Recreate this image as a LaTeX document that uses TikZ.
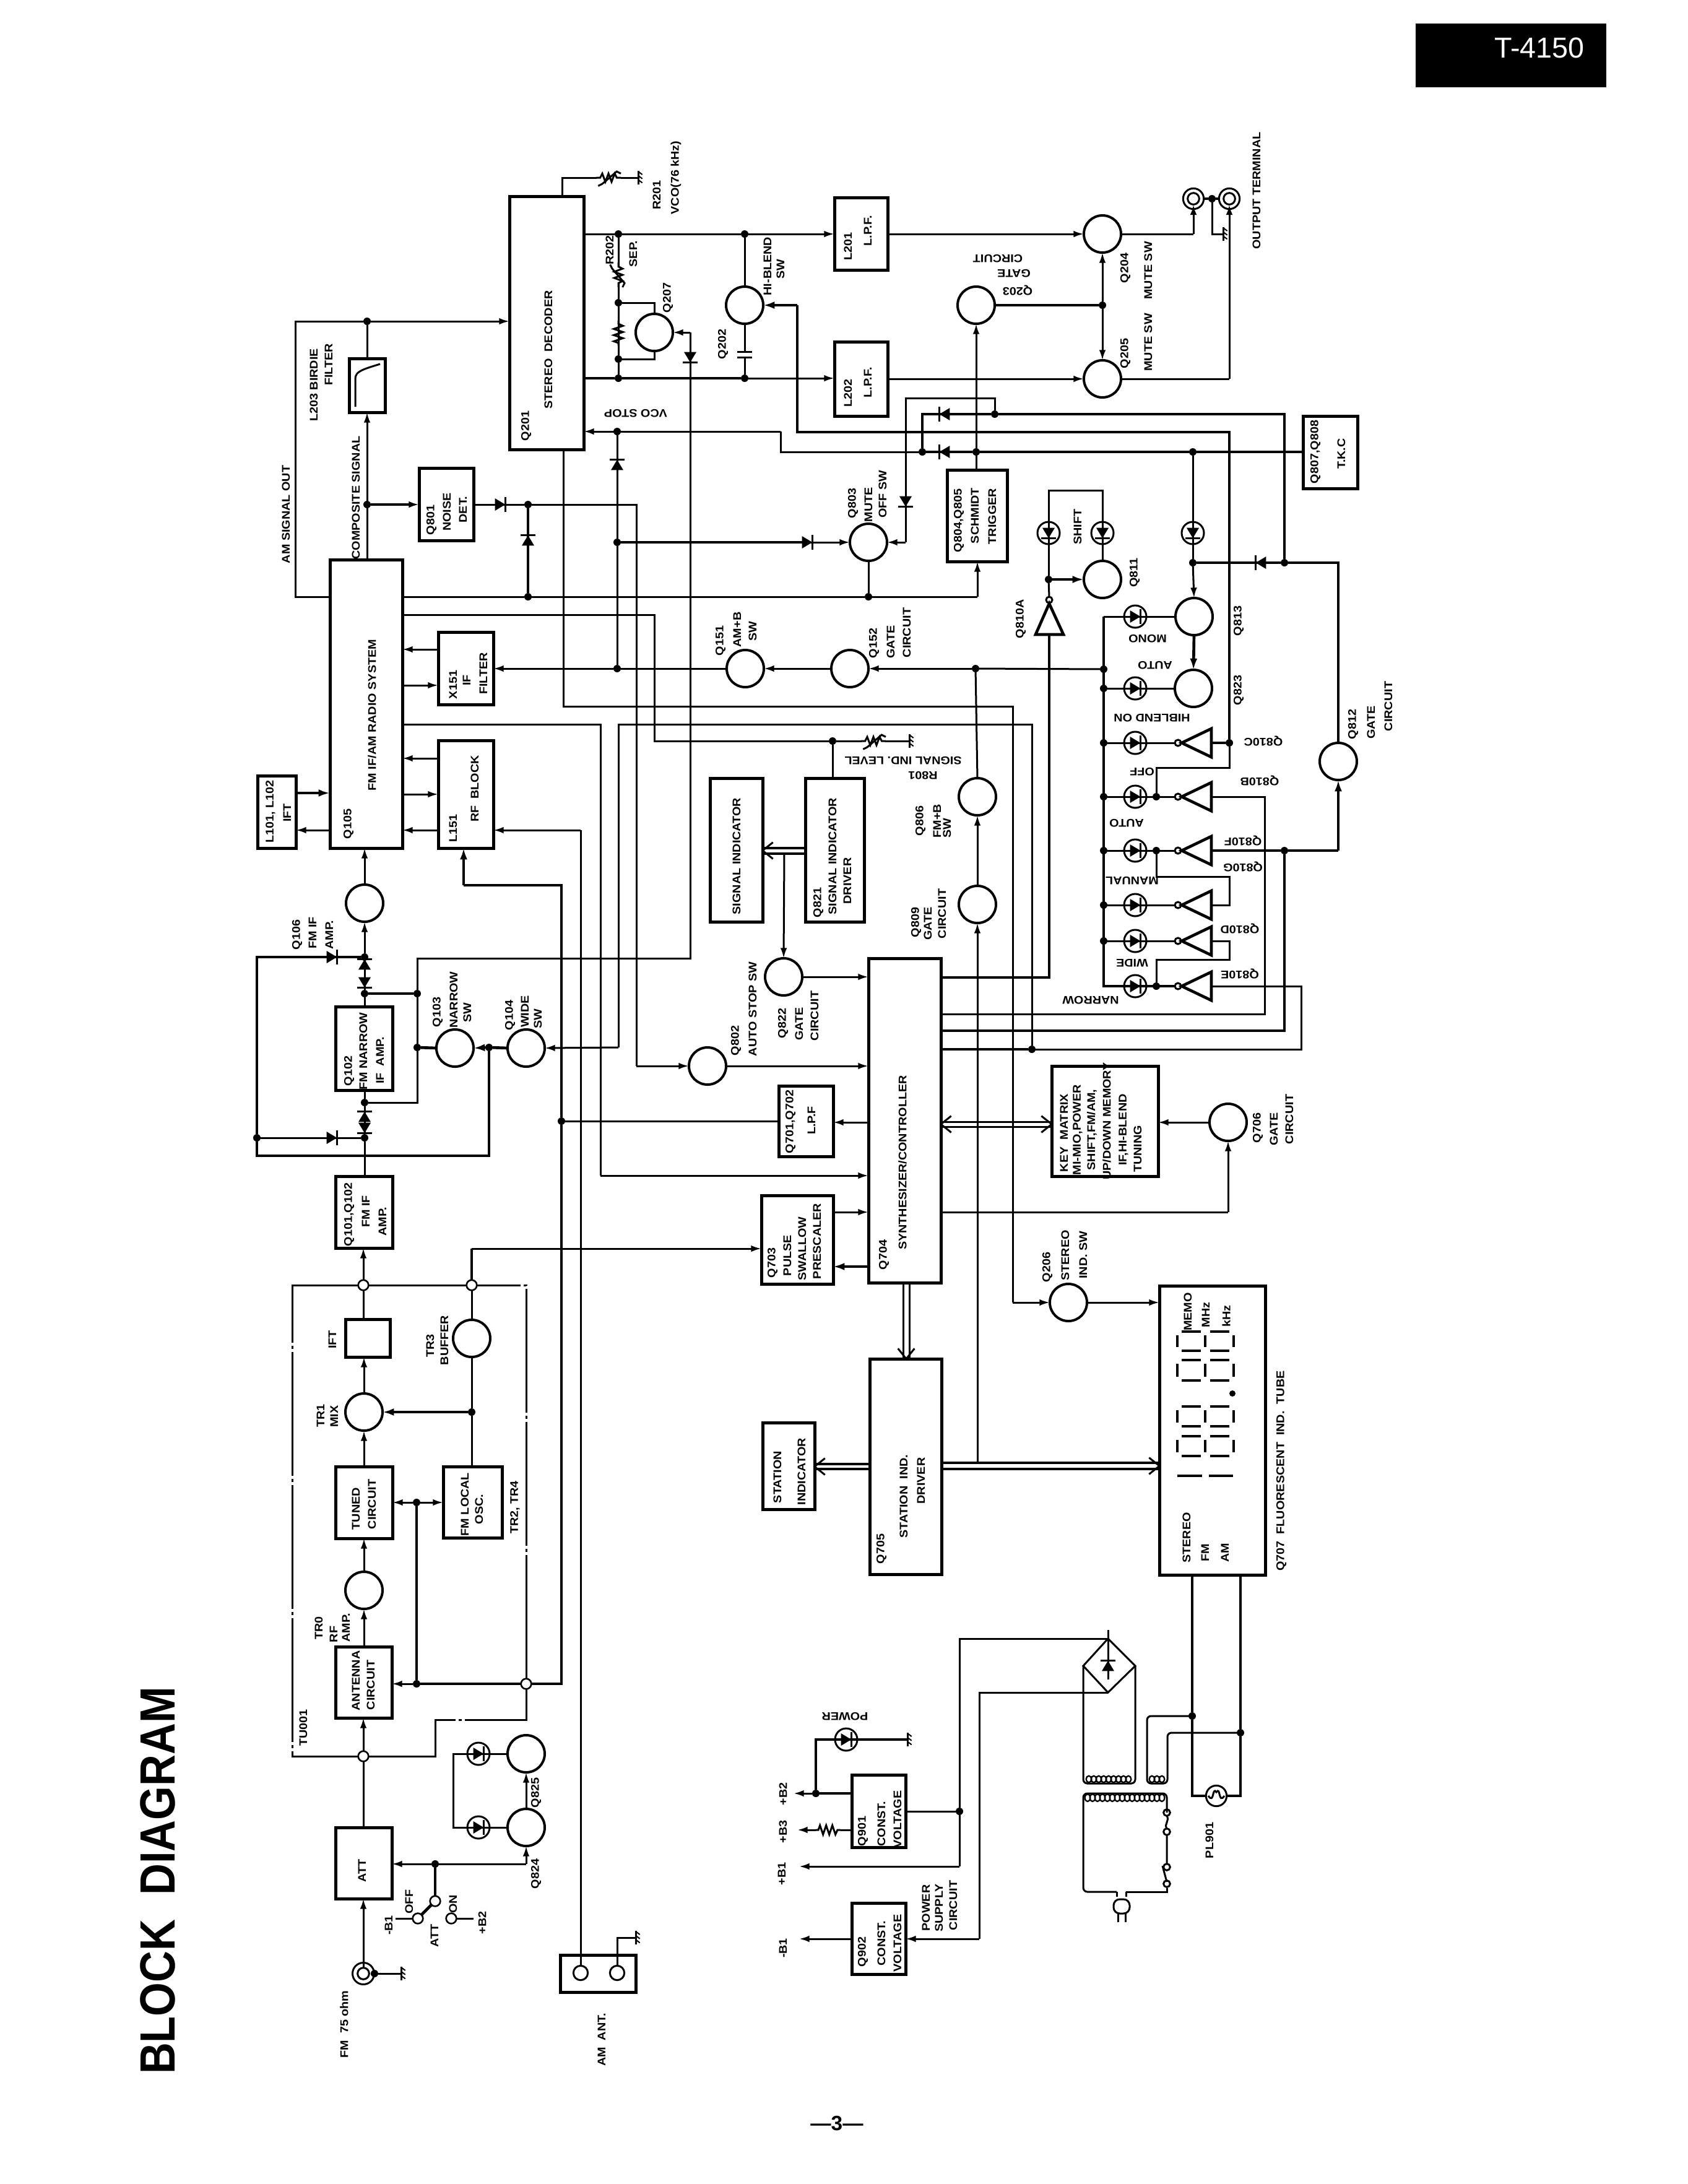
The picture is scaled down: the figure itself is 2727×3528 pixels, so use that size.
\documentclass[tikz,border=0pt]{standalone}
\usepackage{fontspec}
\setmainfont[FakeStretch=1.1]{Liberation Sans}
\newfontfamily\titlef[FakeStretch=0.88]{Liberation Sans}
\newfontfamily\plainf{Liberation Sans}
\usetikzlibrary{arrows.meta,fit}
\newcounter{lbl}
\tikzset{
 w/.style={line width=0.9pt},
 wt/.style={line width=1.4pt},
 arr/.style={w,-{Latex[length=5pt,width=3.2pt]}},
 arrt/.style={wt,-{Latex[length=5.5pt,width=3.6pt]}},
 bxs/.style={draw,rectangle,line width=1.5pt,inner sep=0pt,outer sep=0pt},
 trs/.style={draw,circle,minimum size=18pt,line width=1.2pt,inner sep=0pt,outer sep=0pt},
 jns/.style={fill=black,circle,minimum size=3.6pt,inner sep=0pt,outer sep=0pt},
 ops/.style={draw,fill=white,circle,minimum size=5pt,line width=0.8pt,inner sep=0pt,outer sep=0pt},
 cnn/.style={draw,circle,line width=0.9pt,inner sep=0pt,outer sep=0pt},
 lab/.style={font=\fontsize{5.4pt}{6pt}\selectfont\bfseries,inner sep=0pt,outer sep=0pt},
 tub/.style={line width=0.9pt,dash pattern=on 60pt off 1.5pt on 1.5pt off 1.5pt},
}
\newcommand\tv[3]{\stepcounter{lbl}\node[lab,rotate=90] (t\arabic{lbl}) at (#1,#2) {#3};}
\newcommand\tu[3]{\stepcounter{lbl}\node[lab,rotate=180] (t\arabic{lbl}) at (#1,#2) {#3};}
\newcommand\bx[5]{\node[bxs,fit={(#2,#3)(#4,#5)}] (#1) {};}
\newcommand\trn[3]{\node[trs] (#1) at (#2,#3) {};}
\newcommand\jn[3]{\node[jns] (#1) at (#2,#3) {};}
\newcommand\opn[3]{\node[ops] (#1) at (#2,#3) {};}
\newcommand\dio[3]{\begin{scope}[shift={(#1,#2)},rotate=#3]\fill (-2.5pt,-3pt)--(2.5pt,0pt)--(-2.5pt,3pt)--cycle;\draw[w] (2.5pt,-3.6pt)--(2.5pt,3.6pt);\end{scope}}
\newcommand\led[3]{\dio{#1}{#2}{#3}\draw[line width=0.9pt] (#1,#2) circle (5.4pt);}
\newcommand\gnd[2]{\begin{scope}[shift={(#1,#2)}]\draw[w] (0pt,-3.2pt)--(0pt,3.2pt);\draw[line width=0.6pt] (0pt,3pt)--(2pt,1.5pt) (0pt,1pt)--(2pt,-0.5pt) (0pt,-1pt)--(2pt,-2.5pt);\end{scope}}
\newcommand\vres[3]{\begin{scope}[shift={(#1,#2)},rotate=#3]\draw[w] (-6pt,0pt)--(-4pt,0pt)--(-3pt,2pt)--(-1.5pt,-2pt)--(0pt,2pt)--(1.5pt,-2pt)--(3pt,2pt)--(4pt,0pt)--(6pt,0pt);\draw[w] (-5pt,-4pt)--(-3pt,-3pt)--(4pt,3pt)--(6pt,2pt);\end{scope}}
\newcommand\res[3]{\begin{scope}[shift={(#1,#2)},rotate=#3]\draw[w] (-6pt,0pt)--(-4.5pt,0pt)--(-3.5pt,2.2pt)--(-2pt,-2.2pt)--(-0.5pt,2.2pt)--(1pt,-2.2pt)--(2.5pt,2.2pt)--(4pt,-2.2pt)--(4.8pt,0pt)--(6pt,0pt);\end{scope}}
\newcommand\invt[1]{\draw[wt] (1957,#1-23)--(1957,#1+23)--(1909,#1)--cycle;\draw[w] (1903,#1) circle (1.5pt);}
\newcommand\chev[3]{\begin{scope}[shift={(#1,#2)},rotate=#3]\draw[w] (-5pt,4pt)--(0pt,0pt)--(-5pt,-4pt);\end{scope}}
\newcommand\dig[2]{\draw[line width=1.3pt] (1909,#1)--(1940,#1) (1955,#1)--(1986,#1) (1909,#2)--(1940,#2) (1955,#2)--(1986,#2) (1902,#1+6)--(1902,#2-6) (1947,#1+6)--(1947,#2-6) (1993,#1+6)--(1993,#2-6);}
\begin{document}
\begin{tikzpicture}[x=0.3pt,y=-0.3pt]
\useasboundingbox (0,0) rectangle (2727,3528);
\fill[white] (0,0) rectangle (2727,3528);
% ---------- header, title
\node[fill=black,inner sep=0pt,outer sep=0pt,fit={(2287,38)(2595,141)}] (HDR) {};
\node[text=white,font=\plainf\fontsize{14pt}{14pt}\selectfont,inner sep=0pt] (HDRT) at (2487,77) {T-4150};
\node[rotate=90,font=\titlef\fontsize{24pt}{24pt}\selectfont\bfseries,inner sep=0pt] (TITLE) at (255,3038) {BLOCK\ \ DIAGRAM};
\node[font=\plainf\fontsize{10pt}{10pt}\selectfont\bfseries,inner sep=0pt] (PAGE) at (1352,3430) {—3—};
% ---------- blocks
\bx{Q201}{823}{317}{943}{726}
\bx{L201}{1348}{319}{1434}{436}
\bx{L202}{1348}{552}{1434}{672}
\bx{L203}{564}{579}{622}{666}
\bx{Q801}{677}{756}{765}{873}
\bx{Q105}{533}{904}{650}{1370}
\bx{X151}{708}{1021}{797}{1138}
\bx{L151}{708}{1196}{797}{1370}
\bx{L101}{416}{1253}{478}{1370}
\bx{SIGN}{1147}{1257}{1232}{1489}
\bx{Q821}{1301}{1257}{1396}{1489}
\bx{Q102}{542}{1626}{634}{1761}
\bx{Q101}{542}{1900}{634}{2016}
\bx{Q701}{1258}{1754}{1346}{1868}
\bx{Q703}{1230}{1931}{1346}{2074}
\bx{Q704}{1403}{1548}{1520}{2072}
\bx{Q705}{1405}{2195}{1521}{2543}
\bx{STN}{1232}{2298}{1316}{2438}
\bx{KEY}{1699}{1722}{1871}{1900}
\bx{DISP}{1873}{2077}{2044}{2544}
\bx{Q804}{1530}{759}{1627}{907}
\bx{TKC}{2105}{672}{2193}{789}
\bx{IFT}{558}{2131}{630}{2192}
\bx{TUNED}{542}{2369}{634}{2485}
\bx{OSC}{716}{2369}{811}{2484}
\bx{ANT}{542}{2660}{633}{2775}
\bx{ATT}{542}{2952}{633}{3067}
\bx{AMB}{905}{3158}{1027}{3218}
\bx{Q901}{1376}{2867}{1463}{2984}
\bx{Q902}{1376}{3074}{1463}{3189}
% ---------- transistors
\trn{Q207}{1057}{537}\trn{Q202}{1203}{493}\trn{Q203}{1577}{493}\trn{Q204}{1781}{378}\trn{Q205}{1781}{612}
\trn{Q803}{1403}{876}\trn{Q811}{1781}{936}\trn{Q813}{1929}{996}\trn{Q823}{1928}{1112}\trn{Q812}{2162}{1230}
\trn{Q151}{1204}{1080}\trn{Q152}{1373}{1080}\trn{Q806}{1579}{1287}\trn{Q809}{1579}{1461}\trn{Q822}{1266}{1578}
\trn{Q106}{589}{1459}\trn{Q103}{735}{1693}\trn{Q104}{850}{1693}\trn{Q802}{1143}{1722}\trn{Q206}{1726}{2104}
\trn{Q706}{1984}{1813}\trn{TR3}{762}{2162}\trn{TR1}{588}{2281}\trn{TR0}{588}{2569}\trn{Q824}{850}{2952}\trn{Q825}{850}{2833}
% ---------- junctions
\jn{jA}{999}{378}\jn{jB}{1203}{378}\jn{jC}{999}{611}\jn{jD}{1203}{611}\jn{jE}{999}{489}\jn{jF}{999}{580}
\jn{jVCO}{997}{697}\jn{jG}{997}{876}\jn{jH}{997}{1080}\jn{jI}{593}{519}\jn{jK}{593}{815}\jn{jL}{853}{815}
\jn{jM}{853}{964}\jn{jN}{1403}{964}\jn{jO}{1577}{730}\jn{jP}{1490}{730}\jn{jQ}{1607}{669}\jn{jR}{1927}{730}
\jn{jS}{1927}{909}\jn{jT}{2075}{909}\jn{jU}{1694}{936}\jn{jV}{1783}{1081}\jn{jW}{1576}{1080}\jn{jAW}{1781}{493}
\jn{b1}{1783}{1112}\jn{b2}{1783}{1200}\jn{b3}{1783}{1287}\jn{b4}{1783}{1374}\jn{b5}{1783}{1462}\jn{b6}{1783}{1520}
\jn{jX}{1986}{1200}\jn{jY}{1868}{1287}\jn{jZ}{1868}{1374}\jn{jAA}{1868}{1593}\jn{jAB}{2075}{1374}\jn{jAC}{1667}{1695}
\jn{jAD}{1345}{1197}\jn{jAE}{589}{1546}\jn{jAF}{589}{1605}\jn{jAG}{674}{1605}\jn{jAH}{674}{1692}\jn{jAI}{589}{1781}
\jn{jAJ}{589}{1838}\jn{jAK}{415}{1838}\jn{jAL}{790}{1692}\jn{jAM}{907}{1811}\jn{jAN}{762}{2281}\jn{jAO}{673}{2427}\jn{jAP}{673}{2720}
\jn{jAQ}{703}{3011}\jn{jAR}{1550}{2926}\jn{jAS}{1318}{2897}\jn{jAT}{1926}{2772}\jn{jAU}{2004}{2799}\jn{jAV}{1958}{321}\jn{jAX}{605}{3188}
\opn{oA}{587}{2076}\opn{oB}{762}{2076}\opn{oC}{850}{2720}\opn{oD}{587}{2837}
\node[cnn,minimum size=10pt] (OUTA) at (1928,321) {};
\node[cnn,minimum size=5.6pt] (OUTAi) at (1928,321) {};
\node[cnn,minimum size=10pt] (OUTB) at (1986,321) {};
\node[cnn,minimum size=5.6pt] (OUTBi) at (1986,321) {};
\node[cnn,minimum size=10.5pt] (FMC) at (587,3188) {};
\node[cnn,minimum size=5.6pt] (FMCi) at (587,3188) {};
\node[cnn,minimum size=7pt] (AMa) at (938,3187) {};
\node[cnn,minimum size=7pt] (AMb) at (997,3187) {};
\node[cnn,minimum size=10pt] (LMP) at (1965,2901) {};
\opn{swA}{703}{3071}\opn{swB}{675}{3099}\opn{swC}{729}{3099}
\coordinate (R201a) at (964,287);\coordinate (R201b) at (1003,287);\coordinate (G201) at (1031,287);
\coordinate (R801a) at (1392,1197);\coordinate (R801b) at (1430,1197);\coordinate (G801) at (1469,1197);
\coordinate (GOUT) at (1976,378);\coordinate (GFM) at (648,3188);\coordinate (GAM) at (1027,3130);\coordinate (GPW) at (1466,2810);
% ---------- stereo decoder area
\draw[w] (908,0 |- Q201.north) -- (908,287) -- (R201a);
\vres{983}{287}{0}
\draw[w] (R201b) -- (G201); \gnd{1031}{287}
\draw[w] (Q201.east |- jA) -- (jA) -- (jB);
\draw[arr] (jB) -- (L201.west |- jB);
\draw[wt] (Q201.east |- jC) -- (jC) -- (jD);
\draw[arr] (jD) -- (L202.west |- jD);
\draw[w] (jA) -- (999,430); \vres{999}{444}{-90}
\draw[w] (999,458) -- (jE) -- (jF) -- (jC);
\res{999}{538}{-90}
\draw[w] (jE) -- (1057,489) -- (Q207.north);
\draw[w] (jF) -- (1057,580) -- (Q207.south);
\draw[w] (jB) -- (Q202.north);
\draw[w] (Q202.south) -- (1203,568) (1203,577) -- (jD);
\draw[w] (1191,568) -- (1215,568) (1191,577) -- (1215,577);
\draw[arrt] (1288,493) -- (Q202.east);
\draw[wt] (1288,493) -- (1288,698) -- (1986,698) -- (jX);
\draw[w] (jX) -- (1986,1240) -- (1868,1240) -- (jY);
\draw[arr] (1115,537) -- (Q207.east);
\draw[w] (1115,537) -- (1115,1548) -- (674,1548) -- (jAG);
\dio{1115}{577}{-90}
\draw[arr] (1261,697) -- (Q201.east |- jVCO);
\draw[w] (1261,697) -- (1261,730) -- (jP);
\dio{997}{751}{90}
\draw[w] (jVCO) -- (jG) -- (jH);
\draw[wt] (jG) -- (1304,876); \dio{1304}{876}{0}
\draw[arr] (1304,876) -- (Q803.west);
% birdie / composite
\draw[w] (Q105.west |- jM) -- (477,964) -- (477,519) -- (jI);
\draw[arr] (jI) -- (Q201.west |- jI);
\draw[w] (jI) -- (L203.north);
\draw[arr] (593,0 |- Q105.north) -- (L203.south);
\draw[w] (574,657) -- (574,612) .. controls (574,600) and (585,597) .. (614,588);
\draw[arr,wt] (jK) -- (Q801.west |- jK);
\draw[w] (Q801.east |- jL) -- (jL);
\dio{808}{815}{0}
\draw[w] (jL) -- (1028,815) -- (1028,1722);
\draw[arr] (1028,1722) -- (Q802.west);
\draw[wt] (jL) -- (jM);
\dio{853}{873}{90}
\draw[w] (Q105.east |- jM) -- (jM) -- (jN) -- (1579,964);
\draw[arr] (1579,964) -- (1579,0 |- Q804.south);
\draw[w] (jN) -- (Q803.south);
% mute / schmidt
\draw[w] (1577,0 |- Q804.north) -- (jO);
\draw[arr] (jO) -- (Q203.south);
\draw[wt] (Q203.east) -- (jAW);
\draw[arr] (jAW) -- (Q204.south);
\draw[arr] (jAW) -- (Q205.north);
\draw[arr] (L201.east |- Q204) -- (Q204.west);
\draw[arr] (L202.east |- Q205) -- (Q205.west);
\draw[w] (Q204.east) -- (1928,378);
\draw[arr] (1928,378) -- (OUTAi.south);
\draw[w] (Q205.east) -- (1986,612);
\draw[arr] (1986,612) -- (OUTBi.south);
\draw[wt] (OUTA.east) -- (jAV) -- (OUTB.west);
\draw[w] (jAV) -- (1958,378) -- (GOUT); \gnd{1976}{378}
\draw[w] (jQ) -- (1607,643) -- (1463,643) -- (1463,876);
\dio{1463}{810}{-90}
\draw[arr] (1463,876) -- (Q803.east);
\draw[wt] (jQ) -- (2075,669) -- (jT);
\draw[wt] (jQ) -- (1490,669) -- (jP);
\dio{1526}{669}{180}
\draw[wt] (jP) -- (jO) -- (jR) -- (TKC.west |- jR);
\dio{1526}{730}{180}
\draw[w] (jR) -- (jS);
\led{1927}{861}{-90}
\draw[arr] (jS) -- (Q813.north);
\draw[wt] (jS) -- (jT) -- (2162,909) -- (Q812.north);
\dio{2037}{909}{180}
\draw[arrt] (Q813.south) -- (Q823.north);
% shift
\draw[w] (jU) -- (1694,792) -- (1781,792) -- (Q811.north);
\led{1694}{861}{-90}\led{1781}{861}{-90}
\draw[arrt] (jU) -- (Q811.west);
\draw[w] (jU) -- (1695,964);
\draw[w] (1695,969) circle (1.5pt);
\draw[wt] (1695,975) -- (1673,1025) -- (1718,1025) -- cycle;
\draw[wt] (1695,1025) -- (1695,1579) -- (Q704.east |- 0,1579);
% LED bus
\draw[wt] (1783,996) -- (1783,1593) -- (1898,1593);
\draw[w] (1783,996) -- (Q813.west);
\draw[w] (b1) -- (Q823.west);
\draw[w] (b2) -- (1898,1200) (b3) -- (1898,1287) (b4) -- (1898,1374) (b5) -- (1898,1462) (b6) -- (1898,1520);
\foreach \yy in {996,1112,1200,1287,1374,1462,1520,1593} {\led{1834}{\yy}{0}}
\foreach \yy in {1200,1287,1374,1462,1520,1593} {\invt{\yy}}
\draw[wt] (1957,1200) -- (jX);
\draw[w] (1957,1287) -- (2043,1287) -- (2043,1638) -- (Q704.east |- 0,1638);
\draw[wt] (1957,1374) -- (jAB) -- (2162,1374);
\draw[arrt] (2162,1374) -- (Q812.south);
\draw[wt] (jAB) -- (2075,1665) -- (Q704.east |- 0,1665);
\draw[w] (1957,1593) -- (2102,1593) -- (2102,1695) -- (jAC);
\draw[wt] (jAC) -- (Q704.east |- jAC);
\draw[w] (1957,1462) -- (1986,1462) -- (1986,1416) -- (1868,1416) -- (jZ);
\draw[w] (1957,1520) -- (1986,1520) -- (1986,1550) -- (1868,1550) -- (jAA);
\draw[w] (jAC) -- (1667,1170) -- (999,1170) -- (999,1692);
\draw[arr] (999,1692) -- (Q104.east);
\draw[w] (910,0 |- Q201.south) -- (910,1141) -- (1636,1141) -- (1636,2104);
\draw[arr] (1636,2104) -- (Q206.west);
\draw[arr] (Q206.east) -- (DISP.west |- Q206);
% gate row
\draw[w] (jV) -- (jW);
\draw[arr] (jW) -- (Q152.east);
\draw[arr] (Q152.west) -- (Q151.east);
\draw[w] (Q151.west) -- (jH);
\draw[arr] (jH) -- (X151.east |- jH);
\draw[w] (jW) -- (Q806.north);
\draw[arr] (Q809.north) -- (Q806.south);
\draw[arr] (1579,2363) -- (Q809.south);
\draw[arr] (X151.west |- 0,1049) -- (Q105.east |- 0,1049);
\draw[arr] (Q105.east |- 0,1107) -- (X151.west |- 0,1107);
\draw[arr] (L151.west |- 0,1225) -- (Q105.east |- 0,1225);
\draw[arr] (Q105.east |- 0,1283) -- (L151.west |- 0,1283);
\draw[arr] (L151.west |- 0,1341) -- (Q105.east |- 0,1341);
\draw[arrt] (L101.east |- 0,1281) -- (Q105.west |- 0,1281);
\draw[arr] (Q105.west |- 0,1341) -- (L101.east |- 0,1341);
\draw[w] (Q105.east |- 0,993) -- (1057,993) -- (1057,1197) -- (jAD) -- (R801a);
\vres{1411}{1197}{0}
\draw[w] (R801b) -- (G801); \gnd{1469}{1197}
\draw[w] (jAD) -- (1345,0 |- Q821.north);
\draw[w] (Q105.east |- 0,1170) -- (970,1170) -- (970,1899);
\draw[arr] (970,1899) -- (Q704.west |- 0,1899);
\draw[wt] (Q821.west |- 0,1370) -- (SIGN.east |- 0,1370) (Q821.west |- 0,1379) -- (SIGN.east |- 0,1379);
\chev{1232}{1374}{180}
\draw[arr] (1267,1379) -- (Q822.north);
\draw[arr] (Q822.east) -- (Q704.west |- Q822);
\draw[arr] (Q802.east) -- (Q704.west |- Q802);
\draw[w] (jAM) -- (Q701.west |- jAM);
\draw[arr] (Q704.west |- 0,1813) -- (Q701.east |- 0,1813);
\draw[w] (AMa.north) -- (938,1341);
\draw[arr] (938,1341) -- (L151.east |- 0,1341);
\draw[arrt] (749,1430) -- (749,0 |- L151.south);
\draw[wt] (749,1430) -- (907,1430) -- (jAM) -- (907,2720) -- (oC) -- (jAP);
\draw[arr] (jAP) -- (ANT.east |- jAP);
\draw[wt] (oB) -- (762,2017);
\draw[arr] (762,2017) -- (Q703.west |- 0,2017);
\draw[w] (oB) -- (TR3.north);
\draw[w] (TR3.south) -- (jAN) -- (762,0 |- OSC.north);
\draw[arrt] (jAN) -- (TR1.east);
\draw[arr] (Q703.east |- 0,1958) -- (Q704.west |- 0,1958);
\draw[arrt] (Q704.west |- 0,2046) -- (Q703.east |- 0,2046);
\draw[w] (Q704.east |- 0,1958) -- (1984,1958);
\draw[arr] (1984,1958) -- (Q706.south);
\draw[arr] (Q706.west) -- (KEY.east |- Q706);
\draw[w] (Q704.east |- 0,1812) -- (KEY.west |- 0,1812) (Q704.east |- 0,1820) -- (KEY.west |- 0,1820);
\chev{1520}{1816}{180}\chev{1699}{1816}{0}
\draw[w] (1459,0 |- Q704.south) -- (1459,0 |- Q705.north) (1469,0 |- Q704.south) -- (1469,0 |- Q705.north);
\chev{1464}{2195}{-90}
\draw[wt] (Q705.west |- 0,2365) -- (STN.east |- 0,2365) (Q705.west |- 0,2373) -- (STN.east |- 0,2373);
\chev{1316}{2369}{180}
\draw[wt] (Q705.east |- 0,2363) -- (DISP.west |- 0,2363) (Q705.east |- 0,2373) -- (DISP.west |- 0,2373);
\chev{1873}{2368}{0}
% IF chain
\draw[arr] (Q106.north) -- (589,0 |- Q105.south);
\draw[arr] (jAE) -- (Q106.south);
\draw[w] (jAE) -- (jAF) -- (589,0 |- Q102.north);
\dio{589}{1558}{90}\dio{589}{1587}{-90}
\draw[wt] (jAF) -- (jAG);
\draw[w] (jAG) -- (jAH) -- (674,1781) -- (jAI);
\draw[wt] (jAH) -- (Q103.west);
\draw[w] (589,0 |- Q102.south) -- (jAI) -- (jAJ) -- (589,0 |- Q101.north);
\dio{589}{1804}{90}\dio{589}{1822}{-90}
\draw[wt] (jAE) -- (415,1546) -- (jAK) -- (415,1867) -- (790,1867) -- (jAL);
\dio{536}{1546}{0}
\draw[w] (jAK) -- (jAJ);
\dio{536}{1838}{0}
\draw[arrt] (jAL) -- (Q103.east);
\draw[wt] (jAL) -- (Q104.west);
% tuner
\draw[arr] (oA) -- (587,0 |- Q101.south);
\draw[w] (oA) -- (587,0 |- IFT.north);
\draw[arr] (TR1.north) -- (588,0 |- IFT.south);
\draw[arr] (588,0 |- TUNED.north) -- (TR1.south);
\draw[arr] (TR0.north) -- (588,0 |- TUNED.south);
\draw[arr] (588,0 |- ANT.north) -- (TR0.south);
\draw[arr] (oD) -- (587,0 |- ANT.south);
\draw[w] (587,0 |- ATT.north) -- (oD);
\draw[arr] (FMCi.north) -- (587,0 |- ATT.south);
\draw[tub] (oA) -- (472,2076) -- (472,2837) -- (oD);
\draw[tub] (oD) -- (703,2837) -- (703,2778) -- (850,2778) -- (oC);
\draw[tub] (oC) -- (850,2076) -- (oB) -- (oA);
\draw[arr] (jAO) -- (TUNED.east |- jAO);
\draw[arr] (jAO) -- (OSC.west |- jAO);
\draw[wt] (jAO) -- (jAP);
% ATT
\draw[arr] (jAQ) -- (ATT.east |- jAQ);
\draw[w] (jAQ) -- (850,3011);
\draw[arr] (850,3011) -- (Q824.south);
\draw[arr] (Q824.north) -- (Q825.south);
\draw[w] (Q824.west) -- (732,2952) -- (732,2833) -- (Q825.west);
\led{773}{2952}{0}\led{773}{2833}{0}
\draw[wt] (jAQ) -- (swA);
\draw[wt] (swA) -- (swB);
\draw[w] (swB) -- (639,3099) (swC) -- (765,3099);
\draw[w] (FMC.east) -- (jAX) -- (GFM); \gnd{648}{3188}
\draw[w] (AMb.north) -- (997,3130) -- (GAM); \gnd{1027}{3130}
% power
\draw[wt] (1926,0 |- DISP.south) -- (jAT) -- (1926,2901) -- (LMP.west);
\draw[wt] (2004,0 |- DISP.south) -- (jAU) -- (2004,2901) -- (LMP.east);
\draw[w] (1952,2901) .. controls (1962,2915) and (1958,2885) .. (1965,2895) .. controls (1972,2885) and (1968,2915) .. (1978,2901);
\draw[w,rounded corners=2pt] (jAT) -- (1853,2772) -- (1853,2881) -- (1886,2881) -- (1886,2799) -- (jAU);
\foreach \xx in {1861,1869,1877} {\draw[line width=0.7pt] (\xx,2874) ellipse (1.3pt and 1.6pt);}
\draw[w] (1790,2647) -- (1834,2691) -- (1790,2734) -- (1750,2691) -- cycle;
\draw[w] (1790,2633) -- (1790,2713);
\dio{1790}{2691}{90}
\draw[w,rounded corners=2pt] (1750,2691) -- (1750,2881) -- (1834,2881) -- (1834,2691);
\foreach \xx in {1759,1767,...,1827} {\draw[line width=0.7pt] (\xx,2874) ellipse (1.3pt and 1.6pt);}
\draw[w,rounded corners=2pt] (1885,2928) -- (1885,2897) -- (1750,2897) -- (1750,3056) -- (1804,3056);
\foreach \xx in {1757,1765,...,1877} {\draw[line width=0.7pt] (\xx,2904) ellipse (1.3pt and 1.8pt);}
\draw[w] (1819,3056) -- (1885,3056) -- (1885,3050);
\draw[w] (1885,3043) circle (1.6pt) (1885,3016) circle (1.6pt) (1885,2959) circle (1.6pt) (1885,2928) circle (1.6pt);
\draw[w] (1885,3040) -- (1878,3014) (1885,3010) -- (1885,2964);
\draw[w] (1885,2954) .. controls (1880,2946) and (1890,2942) .. (1885,2933);
\draw[w] (1804,3056) -- (1804,3064) (1819,3056) -- (1819,3064);
\draw[w,rounded corners=3pt] (1799,3091) -- (1799,3068) -- (1825,3068) -- (1825,3091) -- cycle;
\draw[w] (1806,3091) -- (1806,3105) (1818,3091) -- (1818,3105);
\draw[w] (1790,2647) -- (1550,2647) -- (jAR) -- (1550,3015);
\draw[arr] (1550,3015) -- (1291,3015);
\draw[w] (Q901.east |- jAR) -- (jAR);
\draw[w] (1790,2734) -- (1582,2734) -- (1582,3132);
\draw[arr] (1582,3132) -- (Q902.east |- 0,3132);
\draw[arr] (Q902.west |- 0,3132) -- (1291,3132);
\draw[wt] (Q901.west |- jAS) -- (jAS);
\draw[arr] (jAS) -- (1282,2897);
\draw[wt] (jAS) -- (1318,2810) -- (GPW); \gnd{1466}{2810}
\led{1367}{2810}{0}
\draw[w] (Q901.west |- 0,2956) -- (1358,2956);
\res{1338}{2956}{180}
\draw[arr] (1318,2956) -- (1288,2956);
% display segments
\dig{2151}{2182}\dig{2197}{2230}\dig{2272}{2304}\dig{2320}{2352}
\draw[line width=1.3pt] (1902,2384)--(1942,2384) (1953,2384)--(1992,2384);
\fill (1991,2251) circle (1.5pt);
% ---------- labels
\tv{1061}{315}{R201}\tv{1092}{287}{VCO(76 kHz)}\tv{985}{404}{R202}\tv{1023}{410}{SEP.}\tv{1079}{481}{Q207}
\tv{1240}{430}{HI-BLEND}\tv{1261}{435}{SW}\tv{1168}{556}{Q202}
\tv{850}{688}{Q201}\tv{886}{565}{STEREO\ \ DECODER}
\tv{1370}{398}{L201}\tv{1402}{373}{L.P.F.}\tv{1370}{635}{L202}\tv{1402}{618}{L.P.F.}
\tu{1644}{469}{Q203}\tu{1638}{442}{GATE}\tu{1612}{418}{CIRCUIT}
\tv{1818}{433}{Q204}\tv{1855}{437}{MUTE SW}\tv{1818}{571}{Q205}\tv{1855}{553}{MUTE SW}
\tv{2030}{308}{OUTPUT TERMINAL}
\tv{2125}{730}{Q807,Q808}\tv{2167}{733}{T.K.C}
\tv{1378}{813}{Q803}\tv{1403}{815}{MUTE}\tv{1426}{798}{OFF SW}
\tv{1549}{841}{Q804,Q805}\tv{1575}{833}{SCHMIDT}\tv{1603}{834}{TRIGGER}
\tv{1833}{925}{Q811}\tv{1741}{851}{SHIFT}\tv{1649}{1000}{Q810A}
\tv{2001}{1003}{Q813}\tv{2001}{1115}{Q823}
\tv{2186}{1170}{Q812}\tv{2215}{1167}{GATE}\tv{2243}{1141}{CIRCUIT}
\tv{1412}{1039}{Q152}\tv{1439}{1037}{GATE}\tv{1465}{1022}{CIRCUIT}
\tv{1164}{1035}{Q151}\tv{1191}{1017}{AM+B}\tv{1216}{1020}{SW}
\tv{732}{1106}{X151}\tv{754}{1099}{IF}\tv{781}{1088}{FILTER}
\tv{563}{1331}{Q105}\tv{601}{1155}{FM IF/AM RADIO SYSTEM}
\tv{1322}{1458}{Q821}\tv{1345}{1383}{SIGNAL INDICATOR}\tv{1369}{1423}{DRIVER}\tv{1190}{1383}{SIGNAL INDICATOR}
\tv{1265}{1653}{Q822}\tv{1291}{1654}{GATE}\tv{1316}{1641}{CIRCUIT}
\tu{1491}{1253}{R801}\tu{1459}{1229}{SIGNAL IND. LEVEL}
\tv{1487}{1326}{Q806}\tv{1514}{1326}{FM+B}\tv{1530}{1338}{SW}
\tv{1480}{1490}{Q809}\tv{1499}{1492}{GATE}\tv{1522}{1476}{CIRCUIT}
\tu{1854}{1032}{MONO}\tu{1866}{1075}{AUTO}\tu{1861}{1160}{HIBLEND ON}\tu{1845}{1247}{OFF}\tu{1820}{1330}{AUTO}\tu{1829}{1423}{MANUAL}\tu{1829}{1556}{WIDE}\tu{1762}{1616}{NARROW}
\tu{2041}{1197}{Q810C}\tu{2035}{1261}{Q810B}\tu{2008}{1358}{Q810F}\tu{2008}{1400}{Q810G}\tu{2003}{1500}{Q810D}\tu{2003}{1573}{Q810E}
\tv{437}{1311}{L101, L102}\tv{464}{1313}{IFT}\tv{732}{1338}{L151}\tv{767}{1274}{RF\ \ BLOCK}
\tv{480}{1510}{Q106}\tv{505}{1507}{FM IF}\tv{532}{1510}{AMP.}
\tv{564}{1730}{Q102}\tv{587}{1698}{FM NARROW}\tv{614}{1713}{IF\ \ AMP.}
\tv{564}{1962}{Q101,Q102}\tv{591}{1957}{FM IF}\tv{618}{1973}{AMP.}
\tv{707}{1635}{Q103}\tv{733}{1615}{NARROW}\tv{755}{1636}{SW}\tv{824}{1640}{Q104}\tv{848}{1634}{WIDE}\tv{869}{1646}{SW}
\tv{1189}{1681}{Q802}\tv{1216}{1630}{AUTO STOP SW}
\tv{1277}{1812}{Q701,Q702}\tv{1311}{1810}{L.P.F}
\tv{1248}{2040}{Q703}\tv{1272}{2028}{PULSE}\tv{1296}{2017}{SWALLOW}\tv{1320}{2005}{PRESCALER}
\tv{1428}{2027}{Q704}\tv{1458}{1878}{SYNTHESIZER/CONTROLLER}
\tv{1719}{1830}{KEY\ \ MATRIX}\tv{1741}{1825}{MI-MIO,POWER}\tv{1764}{1825}{SHIFT,FM/AM,}\tv{1788}{1811}{UP/DOWN MEMORY}\tv{1815}{1825}{IF,HI-BLEND}\tv{1838}{1856}{TUNING}
\tv{2032}{1822}{Q706}\tv{2058}{1824}{GATE}\tv{2083}{1808}{CIRCUIT}
\tv{1692}{2047}{Q206}\tv{1721}{2028}{STEREO}\tv{1750}{2027}{IND. SW}
\tv{1424}{2502}{Q705}\tv{1460}{2417}{STATION\ \ IND.}\tv{1488}{2392}{DRIVER}
\tv{1256}{2386}{STATION}\tv{1295}{2377}{INDICATOR}
\tv{1919}{2119}{MEMO}\tv{1948}{2124}{MHz}\tv{1981}{2126}{kHz}\tv{1917}{2484}{STEREO}\tv{1947}{2508}{FM}\tv{1979}{2508}{AM}
\tv{2070}{2376}{Q707\ \ FLUORESCENT\ \ IND.\ \ TUBE}
\tv{537}{2164}{IFT}\tv{518}{2287}{TR1}\tv{540}{2288}{MIX}\tv{695}{2174}{TR3}\tv{718}{2165}{BUFFER}
\tv{575}{2437}{TUNED}\tv{601}{2430}{CIRCUIT}\tv{751}{2430}{FM LOCAL}\tv{774}{2438}{OSC.}\tv{832}{2435}{TR2, TR4}
\tv{515}{2630}{TR0}\tv{539}{2640}{RF}\tv{559}{2629}{AMP.}\tv{575}{2715}{ANTENNA}\tv{599}{2722}{CIRCUIT}
\tv{490}{2791}{TU001}\tv{585}{3022}{ATT}\tv{556}{3270}{FM\ \ 75 ohm}
\tv{866}{2896}{Q825}\tv{866}{3027}{Q824}
\tv{628}{3110}{-B1}\tv{779}{3106}{+B2}\tv{661}{3072}{OFF}\tv{732}{3076}{ON}\tv{702}{3127}{ATT}
\tv{972}{3295}{AM\ \ ANT.}
\tv{575}{804}{COMPOSITE SIGNAL}\tv{462}{831}{AM SIGNAL OUT}\tv{507}{622}{L203 BIRDIE}\tv{531}{589}{FILTER}
\tv{697}{840}{Q801}\tv{722}{827}{NOISE}\tv{748}{823}{DET.}
\tv{1394}{2958}{Q901}\tv{1424}{2946}{CONST.}\tv{1450}{2939}{VOLTAGE}
\tv{1394}{3153}{Q902}\tv{1424}{3139}{CONST.}\tv{1450}{3139}{VOLTAGE}
\tv{1263}{3027}{+B1}\tv{1265}{2898}{+B2}\tv{1265}{2959}{+B3}\tv{1265}{3147}{-B1}
\tu{1365}{2773}{POWER}
\tv{1496}{3082}{POWER}\tv{1517}{3082}{SUPPLY}\tv{1540}{3078}{CIRCUIT}
\tv{1954}{2973}{PL901}
\tu{1027}{668}{VCO STOP}
\end{tikzpicture}
\end{document}
